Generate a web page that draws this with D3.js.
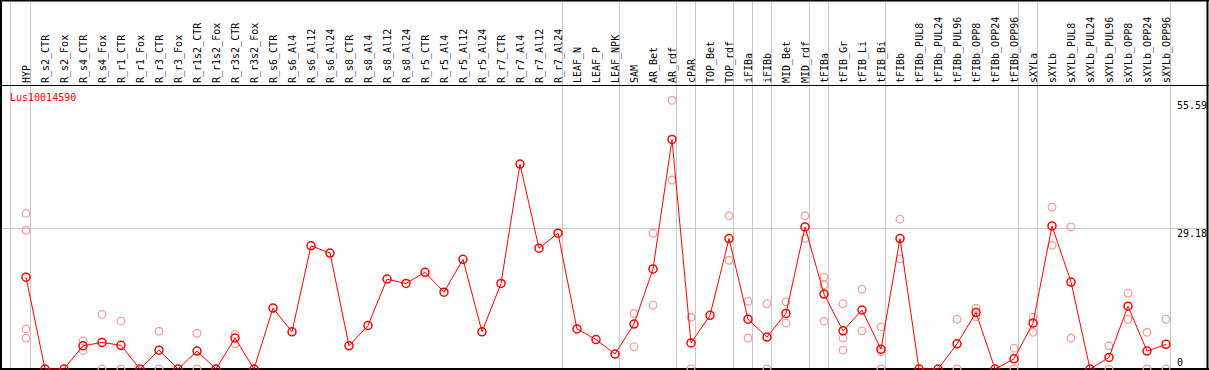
<!DOCTYPE html>
<html>
<head>
<meta charset="utf-8">
<script src="https://cdn.jsdelivr.net/npm/d3@7"></script>
<style>
  body { margin: 0; background: #fff; }
  svg { display: block; }
  text { font-family: "DejaVu Sans Mono", monospace; font-size: 10px; }
</style>
</head>
<body>
<div id="container"></div>
<script>
// Data
const samples = [
  "HYP", "R_s2_CTR", "R_s2_Fox", "R_s4_CTR", "R_s4_Fox", "R_r1_CTR", "R_r1_Fox",
  "R_r3_CTR", "R_r3_Fox", "R_r1s2_CTR", "R_r1s2_Fox", "R_r3s2_CTR", "R_r3s2_Fox",
  "R_s6_CTR", "R_s6_Al4", "R_s6_Al12", "R_s6_Al24", "R_s8_CTR", "R_s8_Al4",
  "R_s8_Al12", "R_s8_Al24", "R_r5_CTR", "R_r5_Al4", "R_r5_Al12", "R_r5_Al24",
  "R_r7_CTR", "R_r7_Al4", "R_r7_Al12", "R_r7_Al24", "LEAF_N", "LEAF_P", "LEAF_NPK",
  "SAM", "AR_Bet", "AR_rdf", "cPAR", "TOP_Bet", "TOP_rdf", "iFIBa", "iFIBb",
  "MID_Bet", "MID_rdf", "tFIBa", "tFIB_Gr", "tFIB_Li", "tFIB_Bi", "tFIBb",
  "tFIBb_PUL8", "tFIBb_PUL24", "tFIBb_PUL96", "tFIBb_OPP8", "tFIBb_OPP24",
  "tFIBb_OPP96", "sXYLa", "sXYLb", "sXYLb_PUL8", "sXYLb_PUL24", "sXYLb_PUL96",
  "sXYLb_OPP8", "sXYLb_OPP24", "sXYLb_OPP96"
];

// mean expression per sample
const means = [
  19.0, 0, 0, 4.8, 5.5, 4.9, 0, 3.9, 0, 3.7, 0, 6.4, 0,
  12.6, 7.7, 25.5, 24.0, 4.8, 9.0, 18.6, 17.7, 20.0, 15.9, 22.7, 7.7,
  17.7, 42.4, 25.0, 28.1, 8.3, 6.1, 3.1,
  9.3, 20.7, 47.5, 5.4, 11.1, 27.0, 10.3, 6.6,
  11.5, 29.4, 15.5, 7.9, 12.2, 4.1, 27.0,
  0, 0, 5.2, 11.7, 0, 2.1,
  9.5, 29.6, 18.0, 0, 2.4, 13.0, 3.7, 5.1
];

// individual replicates: [sample index, value]
const replicates = [
  [0, 32.2], [0, 28.7], [0, 8.3], [0, 6.4],
  [3, 5.8], [3, 3.8], [4, 11.3], [4, 0], [5, 9.9], [5, 0],
  [7, 7.8], [7, 0], [9, 7.4], [9, 0], [11, 7.2], [11, 5.2],
  [32, 11.5], [32, 4.6], [33, 28.1], [33, 13.2], [34, 55.59], [34, 39.1],
  [35, 10.7], [35, 0], [37, 31.7], [37, 22.5], [38, 14.0], [38, 6.4],
  [39, 13.5], [39, 0], [40, 13.9], [40, 9.5], [41, 31.7], [41, 27.0],
  [42, 19.0], [42, 17.4], [42, 9.9], [43, 13.5], [43, 6.4], [43, 3.9],
  [44, 16.5], [44, 7.9], [45, 8.7], [45, 3.6], [45, 0],
  [46, 31.0], [46, 22.8], [49, 10.3], [49, 0], [50, 12.6], [50, 10.8],
  [52, 4.3], [52, 0], [53, 10.7], [53, 7.6], [54, 33.5], [54, 25.6],
  [55, 29.4], [55, 6.4], [57, 4.8], [57, 0], [58, 15.7], [58, 10.3],
  [59, 7.6], [59, 0], [60, 10.3], [60, 0]
];

// group separators: drawn after these sample indices
const groupBreaks = [0, 28, 31, 34, 35, 37, 38, 39, 41, 42, 45, 52, 53, 60];

const yTicks = [0, 29.18, 55.59];
const geneName = "Lus10014590";

// Layout
const W = 1209, H = 370;
const plotTop = 85, plotBottom = 369;

const x = d3.scalePoint()
  .domain(d3.range(samples.length))
  .range([26, 26 + 19 * (samples.length - 1)]);

const y = d3.scaleLinear()
  .domain([0, 29.18])
  .range([plotBottom, 228]);

const svg = d3.select("#container")
  .append("svg")
  .attr("width", W)
  .attr("height", H);

svg.append("rect").attr("width", W).attr("height", H).attr("fill", "#fff");

// vertical separators
svg.append("line")
  .attr("x1", x(0) - 15.5).attr("x2", x(0) - 15.5)
  .attr("y1", 0).attr("y2", H)
  .attr("stroke", "#c8c8c8");

svg.selectAll(".sep")
  .data(groupBreaks)
  .enter()
  .append("line")
  .attr("class", "sep")
  .attr("x1", (d) => x(d) + 4.5)
  .attr("x2", (d) => x(d) + 4.5)
  .attr("y1", 0)
  .attr("y2", H)
  .attr("stroke", "#c8c8c8");

// horizontal reference line
svg.append("line")
  .attr("x1", 0).attr("x2", W)
  .attr("y1", Math.round(y(29.18)) + 0.5).attr("y2", Math.round(y(29.18)) + 0.5)
  .attr("stroke", "#c8c8c8");

// frame
svg.append("line").attr("x1", 0).attr("x2", W).attr("y1", 0.5).attr("y2", 0.5).attr("stroke", "#000").attr("stroke-width", 2);
svg.append("line").attr("x1", 0).attr("x2", W).attr("y1", plotTop + 0.5).attr("y2", plotTop + 0.5).attr("stroke", "#000");
svg.append("line").attr("x1", 0).attr("x2", W).attr("y1", H - 1).attr("y2", H - 1).attr("stroke", "#000").attr("stroke-width", 2);
svg.append("line").attr("x1", 1).attr("x2", 1).attr("y1", 0).attr("y2", H).attr("stroke", "#000").attr("stroke-width", 2);
svg.append("line").attr("x1", 1207.5).attr("x2", 1207.5).attr("y1", 0).attr("y2", H).attr("stroke", "#000").attr("stroke-width", 2);

// sample labels
svg.selectAll(".lbl")
  .data(samples)
  .enter()
  .append("text")
  .attr("class", "lbl")
  .attr("transform", (d, i) => "translate(" + (x(i) + 3.5) + "," + 83 + ") rotate(-90)")
  .attr("fill", "#000")
  .text((d) => d);

// y tick labels
svg.selectAll(".tick")
  .data(yTicks)
  .enter()
  .append("text")
  .attr("class", "tick")
  .attr("x", 1177)
  .attr("y", (d) => d === 0 ? 366 : y(d) + 9)
  .attr("fill", "#000")
  .text((d) => d);

// gene name
svg.append("text")
  .attr("x", 10)
  .attr("y", 101)
  .attr("fill", "#ff0000")
  .text(geneName);

// replicates
svg.append("g")
  .selectAll("circle")
  .data(replicates)
  .enter()
  .append("circle")
  .attr("cx", (d) => x(d[0]))
  .attr("cy", (d) => y(d[1]))
  .attr("r", 3.8)
  .attr("fill", "none")
  .attr("stroke", "#f0a0a0")
  .attr("stroke-width", 1.3);

// mean line
const line = d3.line()
  .x((d, i) => x(i))
  .y((d) => y(d));

svg.append("path")
  .datum(means)
  .attr("d", line)
  .attr("fill", "none")
  .attr("stroke", "#ff0000")
  .attr("stroke-width", 1);

svg.append("g")
  .selectAll("circle")
  .data(means)
  .enter()
  .append("circle")
  .attr("cx", (d, i) => x(i))
  .attr("cy", (d) => y(d))
  .attr("r", 4)
  .attr("fill", "none")
  .attr("stroke", "#ff0000")
  .attr("stroke-width", 1.5);
</script>
</body>
</html>
